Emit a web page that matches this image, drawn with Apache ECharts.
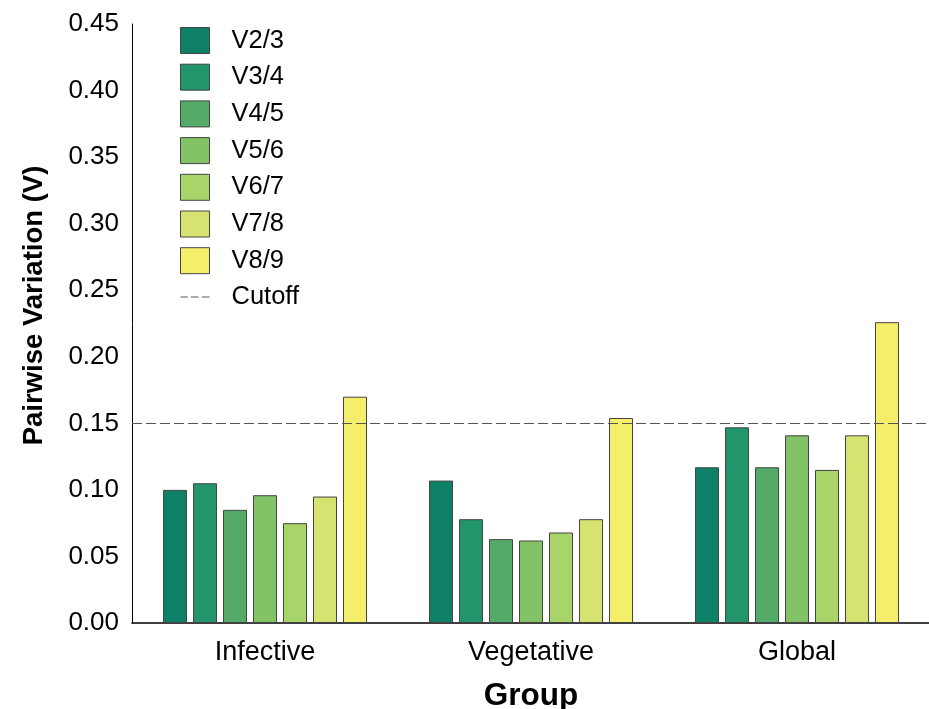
<!DOCTYPE html>
<html>
<head>
<meta charset="utf-8">
<script src="https://cdn.jsdelivr.net/npm/echarts@6/dist/echarts.min.js"></script>
<style>html,body{margin:0;padding:0;background:#fff;overflow:hidden}#c{width:929px;height:709px}</style>
</head>
<body>
<div id="c"></div>
<script>
const groups = ['Infective', 'Vegetative', 'Global'];
const seriesNames = ['V2/3', 'V3/4', 'V4/5', 'V5/6', 'V6/7', 'V7/8', 'V8/9'];
const v23 = [0.100, 0.107, 0.117];
const v34 = [0.105, 0.078, 0.147];
const v45 = [0.085, 0.063, 0.117];
const v56 = [0.096, 0.062, 0.141];
const v67 = [0.075, 0.068, 0.115];
const v78 = [0.095, 0.078, 0.141];
const v89 = [0.170, 0.154, 0.226];
const cutoff = 0.15;
const yTicks = ['0.00','0.05','0.10','0.15','0.20','0.25','0.30','0.35','0.40','0.45'];
const colors = ['#0f8068', '#23956a', '#54ab67', '#82c367', '#a9d46a', '#d7e370', '#f5ee6b'];
const values = [v23, v34, v45, v56, v67, v78, v89];

const FONT = '"Liberation Sans", Arial, sans-serif';
const chart = echarts.init(document.getElementById('c'), null, {renderer: 'canvas', width: 929, height: 709});

const series = seriesNames.map((n, i) => ({
  name: n,
  type: 'bar',
  data: values[i],
  barWidth: 24,
  barGap: '25%',
  itemStyle: {color: colors[i], borderColor: '#444', borderWidth: 1},
  emphasis: {disabled: true}
}));
series.push({
  name: 'Cutoff',
  type: 'scatter',
  data: [],
  itemStyle: {color: '#777'},
  markLine: {
    silent: true,
    symbol: 'none',
    label: {show: false},
    lineStyle: {color: '#555', type: [10, 4], width: 1.2},
    data: [{yAxis: cutoff}]
  }
});

const dashIcon = 'path://M0,0L0.01,0L0.01,0.01Z M32,26L31.99,26L31.99,25.99Z M0,12.3h8v1.5h-8Z M11.5,12.3h8.5v1.5h-8.5Z M23.5,12.3h8.5v1.5h-8.5Z';

chart.setOption({
  animation: false,
  textStyle: {fontFamily: FONT},
  grid: {left: 132, right: -1, top: 24, bottom: 86, containLabel: false, outerBoundsMode: 'none'},
  legend: {
    orient: 'vertical',
    left: 175,
    top: 22,
    itemWidth: 29,
    itemHeight: 26,
    itemGap: 9.7,
    data: seriesNames.map(n => ({name: n, icon: 'rect', itemStyle: {borderColor: '#444', borderWidth: 1}}))
      .concat([{name: 'Cutoff', icon: dashIcon, itemStyle: {color: '#777', borderWidth: 0}}]),
    textStyle: {fontSize: 25.5, color: '#000', fontFamily: FONT, padding: [0, 0, 0, 17]}
  },
  xAxis: {
    type: 'category',
    data: groups,
    name: 'Group',
    nameLocation: 'middle',
    nameGap: 57,
    nameTextStyle: {fontSize: 31.5, fontWeight: 'bold', color: '#000', fontFamily: FONT},
    axisLine: {lineStyle: {color: '#000', width: 1.5}},
    axisTick: {show: false},
    axisLabel: {fontSize: 27, color: '#000', margin: 16, fontFamily: FONT}
  },
  yAxis: {
    type: 'value',
    min: 0,
    max: 0.45,
    interval: 0.05,
    name: 'Pairwise Variation (V)',
    nameLocation: 'middle',
    nameGap: 84,
    nameTextStyle: {fontSize: 27.5, fontWeight: 'bold', color: '#000', fontFamily: FONT, padding: [0, 0, 0, 36]},
    axisLine: {show: true, lineStyle: {color: '#000', width: 1}},
    axisTick: {show: false},
    splitLine: {show: false},
    axisLabel: {fontSize: 26, color: '#000', margin: 13, fontFamily: FONT,
      formatter: (v) => yTicks[Math.round(v / 0.05)] || v.toFixed(2)}
  },
  series: series
});
</script>
</body>
</html>
